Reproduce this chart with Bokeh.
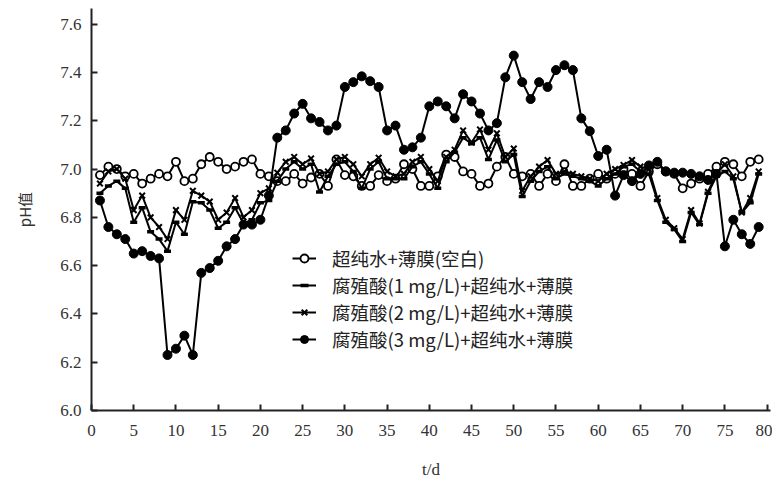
from bokeh.plotting import figure
from bokeh.models import Range1d, FixedTicker, PrintfTickFormatter, Legend, LegendItem
from bokeh.embed import file_html
from bokeh.resources import INLINE

days = list(range(1, 80))

blank = [6.975, 7.01, 7.00, 6.97, 6.98, 6.94, 6.96, 6.98, 6.97, 7.03,
         6.95, 6.96, 7.02, 7.05, 7.03, 7.00, 7.01, 7.03, 7.04, 6.98,
         6.97, 6.95, 6.95, 6.98, 6.94, 6.965, 6.98, 6.93, 7.04, 6.975,
         6.97, 6.93, 6.93, 6.975, 6.95, 6.96, 7.02, 7.00, 6.93, 6.93,
         6.97, 7.06, 7.05, 6.99, 6.98, 6.93, 6.94, 7.01, 7.05, 6.98,
         6.97, 6.98, 6.93, 6.98, 6.95, 7.02, 6.93, 6.93, 6.96, 6.98,
         6.96, 6.98, 7.00, 6.98, 6.93, 6.99, 7.02, 6.99, 6.98, 6.92,
         6.94, 6.96, 6.98, 7.01, 7.03, 7.02, 6.97, 7.03, 7.04]

ha1 = [6.90, 6.93, 6.95, 6.92, 6.78, 6.84, 6.74, 6.71, 6.66, 6.78,
       6.73, 6.865, 6.86, 6.83, 6.755, 6.78, 6.84, 6.775, 6.79, 6.86,
       6.87, 6.95, 7.00, 7.03, 7.00, 7.02, 6.905, 6.97, 7.02, 7.03,
       6.99, 6.92, 7.00, 7.03, 6.96, 6.96, 6.96, 7.01, 7.03, 6.98,
       6.92, 7.03, 7.07, 7.13, 7.105, 7.13, 7.04, 7.12, 7.03, 7.06,
       6.886, 6.95, 6.99, 7.01, 6.96, 6.98, 6.97, 6.96, 6.95, 6.93,
       6.96, 6.98, 7.01, 7.02, 6.99, 6.98, 6.87, 6.78, 6.75, 6.70,
       6.82, 6.77, 6.90, 6.97, 6.99, 6.96, 6.82, 6.86, 6.98]

ha2 = [6.94, 6.99, 7.00, 6.96, 6.83, 6.89, 6.80, 6.76, 6.71, 6.83,
       6.79, 6.91, 6.89, 6.865, 6.79, 6.82, 6.88, 6.80, 6.83, 6.90,
       6.92, 6.985, 7.03, 7.05, 7.02, 7.044, 6.98, 6.99, 7.04, 7.05,
       7.02, 6.97, 7.02, 7.047, 6.99, 6.97, 6.98, 7.03, 7.05, 7.00,
       6.95, 7.05, 7.08, 7.16, 7.11, 7.164, 7.08, 7.148, 7.05, 7.085,
       6.91, 6.97, 7.01, 7.037, 6.98, 6.99, 6.98, 6.97, 6.96, 6.95,
       6.98, 7.00, 7.017, 7.037, 7.01, 7.00, 6.88, 6.79, 6.755, 6.71,
       6.83, 6.775, 6.906, 6.98, 7.02, 6.97, 6.82, 6.88, 6.99]

ha3 = [6.87, 6.76, 6.73, 6.71, 6.65, 6.66, 6.64, 6.63, 6.23, 6.256,
       6.31, 6.23, 6.57, 6.59, 6.62, 6.68, 6.71, 6.77, 6.77, 6.79,
       6.89, 7.13, 7.16, 7.23, 7.27, 7.21, 7.195, 7.16, 7.18, 7.34,
       7.36, 7.384, 7.364, 7.34, 7.16, 7.18, 7.08, 7.09, 7.13, 7.26,
       7.28, 7.26, 7.21, 7.31, 7.28, 7.23, 7.16, 7.19, 7.38, 7.47,
       7.36, 7.29, 7.36, 7.34, 7.41, 7.43, 7.41, 7.21, 7.157, 7.054,
       7.08, 6.89, 6.975, 6.95, 6.98, 7.015, 7.03, 6.99, 6.985, 6.985,
       6.98, 6.97, 6.955, 6.98, 6.68, 6.79, 6.73, 6.69, 6.76]

labels = ["超纯水+薄膜(空白)",
          "腐殖酸(1 mg/L)+超纯水+薄膜",
          "腐殖酸(2 mg/L)+超纯水+薄膜",
          "腐殖酸(3 mg/L)+超纯水+薄膜"]

x_ticks = list(range(0, 81, 5))
y_ticks = [6.0, 6.2, 6.4, 6.6, 6.8, 7.0, 7.2, 7.4, 7.6]

SERIF = "Liberation Serif"

p = figure(width=772, height=481, output_backend="svg", toolbar_location=None,
           x_range=Range1d(0, 80.4), y_range=Range1d(6.0, 7.665),
           min_border_left=91, min_border_right=2, min_border_top=8,
           min_border_bottom=70)
p.outline_line_color = None
p.grid.visible = False
p.background_fill_color = "white"

LW = 2
r0l = p.line(days, blank, line_color="black", line_width=LW)
r0m = p.scatter(days, blank, marker="circle", size=8, fill_color="white",
                line_color="black", line_width=1.8)
r1l = p.line(days, ha1, line_color="black", line_width=LW)
r1m = p.scatter(days, ha1, marker="dash", size=7, line_color="black",
                line_width=3.5)
r2l = p.line(days, ha2, line_color="black", line_width=LW)
r2m = p.scatter(days, ha2, marker="x", size=8, line_color="black", line_width=2)
r3l = p.line(days, ha3, line_color="black", line_width=LW)
r3m = p.scatter(days, ha3, marker="circle", size=9, fill_color="black",
                line_color="black", line_width=1)

legend = Legend(items=[
    LegendItem(label=labels[0], renderers=[r0l, r0m]),
    LegendItem(label=labels[1], renderers=[r1l, r1m]),
    LegendItem(label=labels[2], renderers=[r2l, r2m]),
    LegendItem(label=labels[3], renderers=[r3l, r3m]),
], location=(201, 58))
legend.label_text_font = "Noto Sans CJK SC"
legend.label_text_font_size = "18.5px"
legend.label_text_color = "#222222"
legend.glyph_width = 24
legend.glyph_height = 20
legend.label_height = 20
legend.spacing = 1
legend.padding = 0
legend.margin = 0
legend.label_standoff = 16
legend.border_line_alpha = 0
legend.background_fill_alpha = 0
p.add_layout(legend, "center")

xa = p.xaxis[0]
xa.ticker = FixedTicker(ticks=x_ticks)
xa.axis_label = "t/d"
xa.axis_label_text_font = SERIF
xa.axis_label_text_font_size = "17px"
xa.axis_label_text_font_style = "normal"
xa.axis_label_standoff = 21
ya = p.yaxis[0]
ya.ticker = FixedTicker(ticks=y_ticks)
ya.formatter = PrintfTickFormatter(format="%.1f")
ya.axis_label = "pH值"
ya.axis_label_text_font = "Noto Sans CJK SC"
ya.axis_label_text_font_size = "15px"
ya.axis_label_text_font_style = "normal"
ya.axis_label_standoff = 22

for ax in (xa, ya):
    ax.axis_line_color = "#222222"
    ax.axis_line_width = 2
    ax.major_tick_in = 6
    ax.major_tick_out = 0
    ax.major_tick_line_color = "#222222"
    ax.major_tick_line_width = 2
    ax.minor_tick_line_color = None
    ax.major_label_text_font = SERIF
    ax.major_label_text_font_size = "17px"
    ax.major_label_text_color = "#333333"
    ax.axis_label_text_color = "#333333"
xa.major_label_standoff = 14
ya.major_label_standoff = 10

open("out.html", "w").write(file_html(p, INLINE))
